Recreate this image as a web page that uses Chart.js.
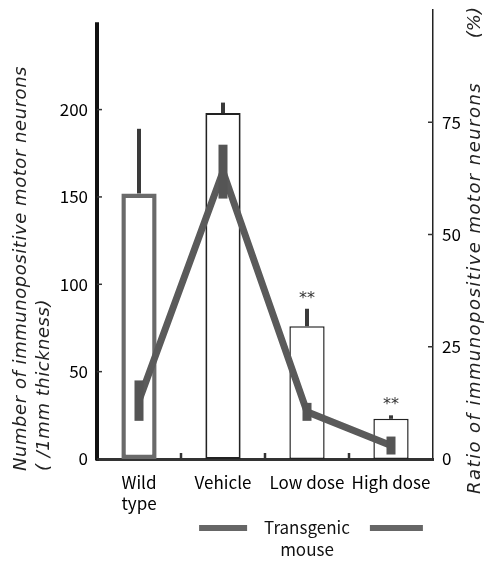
<!DOCTYPE html>
<html>
<head>
<meta charset="utf-8">
<script src="https://cdn.jsdelivr.net/npm/chart.js@4.4.1/dist/chart.umd.min.js"></script>
<style>
html,body{margin:0;padding:0;background:#fff;}
#wrap{width:490px;height:561px;position:relative;}
</style>
</head>
<body>
<div id="wrap"><canvas id="c" width="490" height="561"></canvas></div>
<script>
// ---- data ----
const categories = [['Wild', 'type'], 'Vehicle', 'Low dose', 'High dose'];
const neuronCounts = [152, 198, 76, 23];
const neuronErrors = [37, 6, 10, 2];
const ratioValues = [13, 64, 10.5, 3];
const ratioErrors = [4.5, 6, 2, 2];
const significance = ['', '', '**', '**'];
const leftTicks = [0, 50, 100, 150, 200];
const rightTicks = [0, 25, 50, 75];
const leftAxisTop = 250;
const leftTitle = ['Number of immunopositive motor neurons', '( /1mm thickness)'];
const rightTitle = 'Ratio of immunopositive motor neurons';
const rightUnit = '(%)';
const groupLabel = ['Transgenic', 'mouse'];
const groupStart = 1, groupEnd = 3;

const LABEL_FONT = "'Noto Sans CJK JP', 'Liberation Sans', sans-serif";
const TITLE_FONT = "'DejaVu Sans', sans-serif";

function spacedText(ctx, text, x, y, targetWidth) {
  ctx.letterSpacing = '0px';
  const w = ctx.measureText(text).width;
  const ls = Math.max(0, (targetWidth - w) / text.length);
  ctx.letterSpacing = ls.toFixed(2) + 'px';
  ctx.fillText(text, x, y);
  ctx.letterSpacing = '0px';
}

const decor = {
  id: 'decor',
  afterDatasetsDraw(chart) {
    const ctx = chart.ctx;
    const x = chart.scales.x, y = chart.scales.y, y2 = chart.scales.y2;
    const area = chart.chartArea;
    ctx.save();
    // left axis line up to 250
    ctx.strokeStyle = '#111';
    ctx.lineWidth = 4;
    ctx.beginPath();
    ctx.moveTo(area.left, y.getPixelForValue(leftAxisTop));
    ctx.lineTo(area.left, area.bottom + 1.5);
    ctx.stroke();
    // inward tick marks
    ctx.lineWidth = 1.5;
    ctx.strokeStyle = '#333';
    leftTicks.forEach(v => {
      const py = y.getPixelForValue(v);
      ctx.beginPath(); ctx.moveTo(area.left, py); ctx.lineTo(area.left + 5, py); ctx.stroke();
    });
    rightTicks.forEach(v => {
      const py = y2.getPixelForValue(v);
      ctx.beginPath(); ctx.moveTo(area.right, py); ctx.lineTo(area.right - 5, py); ctx.stroke();
    });
    ctx.lineWidth = 2.5;
    for (let i = 0; i < categories.length - 1; i++) {
      const px = (x.getPixelForValue(i) + x.getPixelForValue(i + 1)) / 2;
      ctx.beginPath(); ctx.moveTo(px, area.bottom); ctx.lineTo(px, area.bottom - 6); ctx.stroke();
    }
    // bar error bars (upward)
    ctx.strokeStyle = '#3a3a3a';
    ctx.lineWidth = 4;
    neuronCounts.forEach((v, i) => {
      const px = x.getPixelForValue(i);
      ctx.beginPath();
      ctx.moveTo(px, y.getPixelForValue(v));
      ctx.lineTo(px, y.getPixelForValue(v + neuronErrors[i]));
      ctx.stroke();
    });
    // ratio error bars
    ctx.fillStyle = '#555';
    ratioValues.forEach((v, i) => {
      const px = x.getPixelForValue(i);
      const t = y2.getPixelForValue(v + ratioErrors[i]);
      const b = y2.getPixelForValue(v - ratioErrors[i]);
      ctx.fillRect(px - 4.5, t, 9, b - t);
    });
    // significance marks
    ctx.fillStyle = '#333';
    ctx.font = "16px 'DejaVu Sans', sans-serif";
    ctx.textAlign = 'center';
    ctx.textBaseline = 'middle';
    significance.forEach((s, i) => {
      if (!s) return;
      const px = x.getPixelForValue(i);
      const py = y.getPixelForValue(neuronCounts[i] + neuronErrors[i]) - 12;
      ctx.fillText(s, px, py + 2);
    });
    ctx.restore();
  },
  afterDraw(chart) {
    const ctx = chart.ctx;
    const x = chart.scales.x;
    const area = chart.chartArea;
    ctx.save();
    ctx.fillStyle = '#222';
    ctx.font = 'italic 18px ' + TITLE_FONT;
    ctx.textBaseline = 'middle';
    // left title
    ctx.save();
    ctx.translate(area.left - 76, area.bottom + 12);
    ctx.rotate(-Math.PI / 2);
    ctx.textAlign = 'left';
    spacedText(ctx, leftTitle[0], 0, 0, 405);
    spacedText(ctx, leftTitle[1], 0, 23, 172);
    ctx.restore();
    // right title
    ctx.save();
    ctx.translate(area.right + 42, area.bottom + 35);
    ctx.rotate(-Math.PI / 2);
    ctx.textAlign = 'left';
    spacedText(ctx, rightTitle, 0, 0, 412);
    ctx.textAlign = 'right';
    ctx.fillText(rightUnit, area.bottom + 28, 0);
    ctx.restore();
    // group label
    const cx = (x.getPixelForValue(groupStart) + x.getPixelForValue(groupEnd)) / 2;
    ctx.font = '17px ' + LABEL_FONT;
    ctx.fillStyle = '#111';
    ctx.textAlign = 'center';
    const gy = area.bottom + 69;
    ctx.fillText(groupLabel[0], cx, gy);
    ctx.fillText(groupLabel[1], cx, gy + 22);
    const w = ctx.measureText(groupLabel[0]).width;
    ctx.fillStyle = '#666';
    ctx.fillRect(cx - w / 2 - 65, gy - 3, 48, 6);
    ctx.fillRect(cx + w / 2 + 20, gy - 3, 53, 6);
    ctx.restore();
  }
};

function noPad(s) { s.paddingTop = 0; s.paddingBottom = 0; s.paddingLeft = 0; s.paddingRight = 0; }

new Chart(document.getElementById('c'), {
  data: {
    labels: categories,
    datasets: [
      {
        type: 'line',
        data: ratioValues,
        yAxisID: 'y2',
        borderColor: '#5a5a5a',
        borderWidth: 7,
        pointRadius: 0,
        tension: 0,
        fill: false,
        order: 0
      },
      {
        type: 'bar',
        data: neuronCounts,
        yAxisID: 'y',
        backgroundColor: '#ffffff',
        borderColor: ['#6a6a6a', '#222', '#222', '#222'],
        borderWidth: [4.5, 2, 1.5, 1.5],
        borderSkipped: false,
        barPercentage: 0.42,
        categoryPercentage: 1,
        order: 1
      }
    ]
  },
  options: {
    responsive: false,
    animation: false,
    devicePixelRatio: 1,
    layout: { padding: { top: 10, left: 0, right: 0, bottom: 0 } },
    plugins: { legend: { display: false }, tooltip: { enabled: false } },
    scales: {
      x: {
        type: 'category',
        offset: true,
        grid: { display: false, drawTicks: false },
        border: { display: true, color: '#333', width: 3 },
        ticks: { color: '#000', font: { size: 17, family: LABEL_FONT, lineHeight: 1.25 }, padding: 13, maxRotation: 0, autoSkip: false },
        afterFit(s) { s.height = 102; noPad(s); }
      },
      y: {
        position: 'left',
        min: 0,
        max: 257,
        grid: { display: false, drawTicks: false },
        border: { display: false },
        afterBuildTicks(s) { s.ticks = leftTicks.map(v => ({ value: v })); },
        ticks: { color: '#000', font: { size: 17, family: LABEL_FONT }, padding: 9 },
        afterFit(s) { s.width = 97; noPad(s); }
      },
      y2: {
        position: 'right',
        min: 0,
        max: 100,
        grid: { display: false, drawTicks: false },
        border: { display: true, color: '#222', width: 1.5 },
        afterBuildTicks(s) { s.ticks = rightTicks.map(v => ({ value: v })); },
        ticks: { color: '#000', font: { size: 17, family: LABEL_FONT }, padding: 9 },
        afterFit(s) { s.width = 57; noPad(s); }
      }
    }
  },
  plugins: [decor]
});
</script>
</body>
</html>
